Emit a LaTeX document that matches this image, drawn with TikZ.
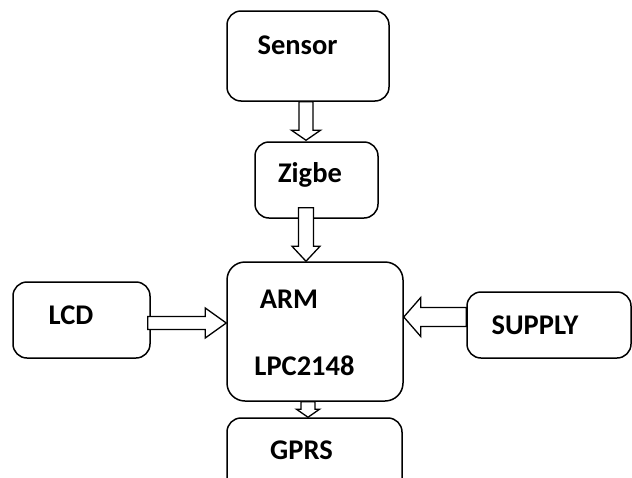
\documentclass[tikz,border=0pt]{standalone}
\usepackage{fontspec}
\setmainfont{Carlito}
\usetikzlibrary{calc}
\tikzset{
  blk/.style={draw, line width=1.5pt, rounded corners=14pt, inner sep=0pt, fill=white},
  lbl/.style={font=\fontsize{28.5}{30}\selectfont\bfseries, inner sep=0pt},
  barr/.style={draw, line width=1.3pt, fill=white, line join=miter},
}
% #1 from, #2 to, #3 shaft half width, #4 head half width, #5 head length
\newcommand\blockarrow[5]{%
  \draw[barr] ($#1!#3!90:#2$) -- ($($#2!#5!#1$)!#3!90:#2$) -- ($($#2!#5!#1$)!#4!90:#2$) -- #2
   -- ($($#2!#5!#1$)!#4!-90:#2$) -- ($($#2!#5!#1$)!#3!-90:#2$) -- ($#1!#3!-90:#2$) -- cycle;}
\begin{document}
\begin{tikzpicture}[x=1pt,y=-1pt]
\clip (0,0) rectangle (632,477);
\fill[white] (0,0) rectangle (632,477);
% boxes
\node[blk, minimum width=162pt, minimum height=90pt] (sensor) at (308,56) {};
\node[blk, minimum width=123pt, minimum height=76pt] (zigbe) at (316.5,180) {};
\node[blk, minimum width=176pt, minimum height=139pt, rounded corners=18pt] (arm) at (315,331.5) {};
\node[blk, minimum width=137pt, minimum height=76pt] (lcd) at (81.5,320) {};
\node[blk, minimum width=164pt, minimum height=66pt] (supply) at (549,325) {};
\node[blk, minimum width=175pt, minimum height=80pt] (gprs) at (314.5,458) {};
% labels
\node[lbl] (tsensor) at (297.5,45) {Sensor};
\node[lbl] (tzigbe) at (310,175) {Zigbe};
\node[lbl] (tarm) at (289,299) {ARM};
\node[lbl] (tlpc) at (304.5,366) {LPC2148};
\node[lbl] (tlcd) at (71,315) {LCD};
\node[lbl] (tsupply) at (535,325) {SUPPLY};
\node[lbl] (tgprs) at (301.5,450) {GPRS};
% block arrows
\blockarrow{([xshift=-2pt]sensor.south)}{([xshift=-10.5pt,yshift=1pt]zigbe.north)}{7pt}{14.5pt}{10pt}
\blockarrow{([xshift=-10.5pt,yshift=11pt]zigbe.south)}{([xshift=-9pt]arm.north)}{7.5pt}{14pt}{15pt}
\blockarrow{([xshift=-3pt,yshift=-3pt]lcd.east)}{([yshift=8.5pt]arm.west)}{6.5pt}{15pt}{21pt}
\blockarrow{([yshift=8pt]supply.west)}{([yshift=14.5pt]arm.east)}{9.5pt}{19.5pt}{17pt}
\blockarrow{([xshift=-7pt]arm.south)}{([xshift=-6.5pt]gprs.north)}{7pt}{11.5pt}{8pt}
\end{tikzpicture}
\end{document}
